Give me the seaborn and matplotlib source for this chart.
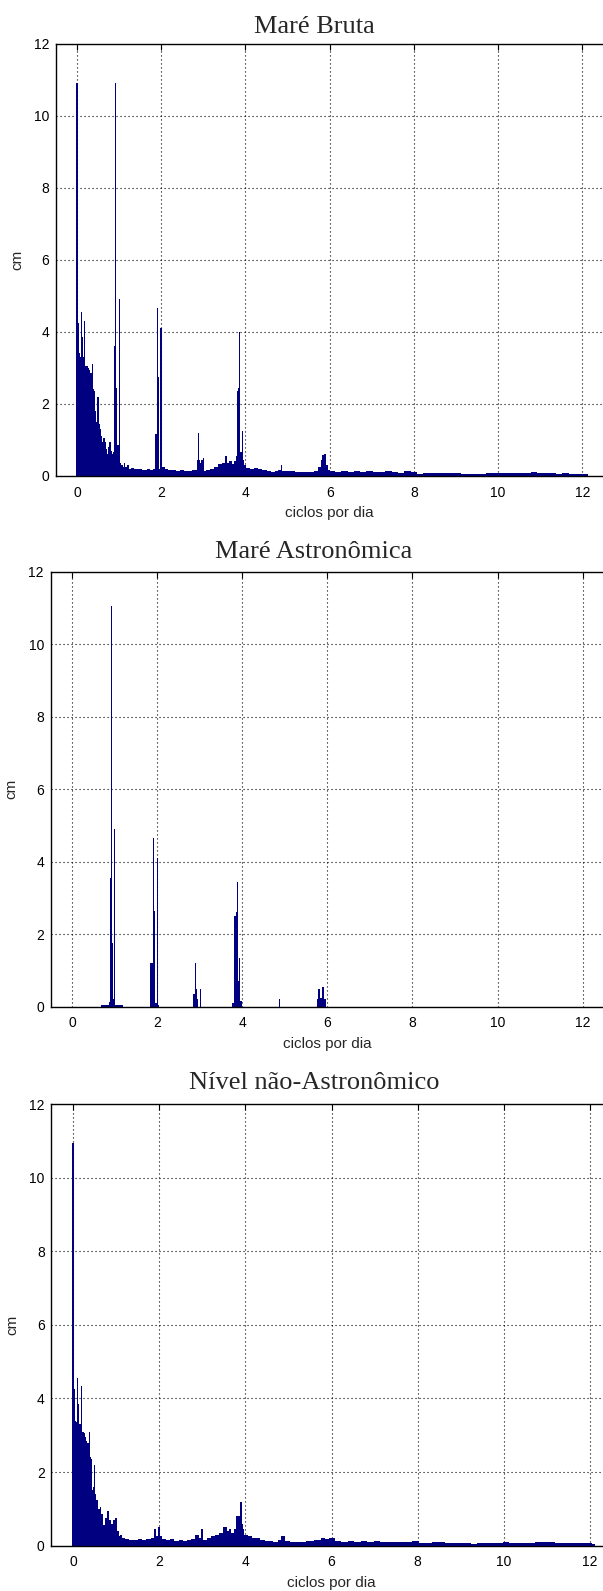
import numpy as np
import matplotlib
matplotlib.use('Agg')
import matplotlib.pyplot as plt
import seaborn as sns

# espectro de amplitude (cm) por frequencia (ciclos por dia)
bruta_freq = [0.00, 0.03, 0.045, 0.06, 0.08, 0.10, 0.12, 0.14, 0.16, 0.19,
              0.21, 0.24, 0.27, 0.30, 0.33, 0.36, 0.38, 0.41, 0.44, 0.47,
              0.50, 0.52, 0.55, 0.58, 0.61, 0.64, 0.67, 0.70, 0.72, 0.75,
              0.78, 0.81, 0.84, 0.87, 0.895, 0.925, 0.945, 0.97, 0.995, 1.015,
              1.04, 1.07, 1.10, 1.13, 1.16, 1.20, 1.25, 1.30, 1.40, 1.50,
              1.60, 1.70, 1.78, 1.84, 1.865, 1.89, 1.915, 1.935, 1.96, 1.995,
              2.02, 2.06, 2.12, 2.2, 2.3, 2.4, 2.5, 2.6, 2.7, 2.78,
              2.84, 2.865, 2.885, 2.91, 2.94, 2.965, 2.995, 3.03, 3.1, 3.2,
              3.3, 3.4, 3.48, 3.54, 3.58, 3.64, 3.7, 3.75, 3.79, 3.815,
              3.84, 3.865, 3.885, 3.905, 3.93, 3.955, 3.99, 4.05, 4.15, 4.25,
              4.35, 4.45, 4.55, 4.65, 4.75, 4.82, 4.86, 4.9, 4.98, 5.1,
              5.25, 5.4, 5.55, 5.7, 5.77, 5.81, 5.85, 5.89, 5.93, 5.97,
              6.05, 6.2, 6.35, 6.5, 6.65, 6.8, 6.95, 7.1, 7.25, 7.4,
              7.55, 7.7, 7.85, 8.0, 8.15, 8.3, 8.45, 8.6, 8.75, 8.9,
              9.05, 9.2, 9.35, 9.5, 9.65, 9.8, 9.95, 10.1, 10.25, 10.4,
              10.55, 10.7, 10.85, 11.0, 11.15, 11.3, 11.45, 11.6, 11.75, 11.9,
              12.05]
bruta_cm = [10.9, 4.25, 3.45, 3.4, 3.3, 4.55, 3.85, 3.3, 3.3, 4.3,
            3.05, 3.05, 3.0, 2.95, 2.85, 3.1, 2.4, 2.35, 1.8, 1.5,
            2.2, 1.45, 1.3, 1.1, 0.95, 1.05, 0.95, 0.75, 0.6, 0.8,
            0.95, 0.7, 0.6, 0.65, 3.6, 10.9, 2.45, 0.85, 0.85, 4.9,
            0.35, 0.3, 0.25, 0.35, 0.25, 0.3, 0.2, 0.22, 0.18, 0.2,
            0.16, 0.18, 0.15, 0.2, 1.15, 1.15, 4.65, 2.75, 0.2, 4.1,
            0.25, 0.25, 0.18, 0.15, 0.17, 0.14, 0.15, 0.13, 0.14, 0.15,
            0.15, 0.45, 1.2, 0.45, 0.35, 0.45, 0.5, 0.12, 0.15, 0.2,
            0.25, 0.33, 0.35, 0.55, 0.35, 0.4, 0.33, 0.4, 0.55, 2.35,
            2.45, 4.0, 0.65, 0.65, 1.25, 0.45, 0.3, 0.22, 0.2, 0.22,
            0.18, 0.15, 0.12, 0.1, 0.12, 0.15, 0.3, 0.12, 0.12, 0.12,
            0.1, 0.1, 0.1, 0.12, 0.25, 0.45, 0.58, 0.6, 0.3, 0.15,
            0.12, 0.1, 0.12, 0.1, 0.12, 0.1, 0.12, 0.1, 0.1, 0.12,
            0.1, 0.09, 0.12, 0.1, 0.06, 0.07, 0.09, 0.09, 0.08, 0.08,
            0.08, 0.06, 0.05, 0.06, 0.06, 0.07, 0.08, 0.08, 0.07, 0.07,
            0.07, 0.09, 0.1, 0.09, 0.08, 0.07, 0.06, 0.07, 0.06, 0.06,
            0.05]

astro_freq = [0.0, 0.66, 0.72, 0.80, 0.86, 0.885, 0.905, 0.93, 0.95, 0.975,
              1.0, 1.025, 1.1, 1.17, 1.21, 1.83, 1.86, 1.885, 1.91, 1.93,
              1.96, 1.985, 2.005, 2.03, 2.06, 2.84, 2.87, 2.895, 2.92, 2.94,
              2.98, 3.02, 3.05, 3.74, 3.77, 3.8, 3.825, 3.85, 3.87, 3.89,
              3.915, 3.945, 3.97, 4.0, 4.855, 4.88, 4.905, 5.74, 5.77, 5.81,
              5.85, 5.88, 5.915, 5.95, 5.98, 12.0]
astro_cm = [0, 0, 0.05, 0.05, 0.06, 0.12, 3.55, 11.05, 1.75, 0.2,
            4.9, 0.06, 0.05, 0.05, 0, 0, 1.2, 1.2, 4.65, 2.65,
            0.1, 0.1, 4.1, 0.05, 0, 0, 0.35, 1.2, 0.5, 0.2,
            0, 0.5, 0, 0, 0.1, 0.1, 2.5, 2.5, 2.6, 3.45,
            0.7, 1.35, 0.15, 0, 0, 0.2, 0, 0, 0.2, 0.5,
            0.25, 0.55, 0.55, 0.2, 0, 0]

resid_freq = [0.00, 0.03, 0.045, 0.06, 0.08, 0.11, 0.14, 0.16, 0.18, 0.21,
              0.23, 0.26, 0.29, 0.32, 0.35, 0.38, 0.40, 0.43, 0.46, 0.48,
              0.505, 0.53, 0.56, 0.6, 0.64, 0.68, 0.72, 0.76, 0.81, 0.85,
              0.9, 0.95, 1.01, 1.04, 1.08, 1.12, 1.16, 1.25, 1.35, 1.45,
              1.55, 1.65, 1.75, 1.85, 1.91, 1.95, 2.0, 2.05, 2.1, 2.2,
              2.3, 2.4, 2.5, 2.6, 2.7, 2.8, 2.88, 2.95, 3.0, 3.05,
              3.15, 3.25, 3.35, 3.45, 3.53, 3.6, 3.65, 3.7, 3.76, 3.81,
              3.86, 3.9, 3.93, 3.96, 4.0, 4.1, 4.2, 4.3, 4.4, 4.5,
              4.6, 4.7, 4.8, 4.87, 4.95, 5.1, 5.3, 5.5, 5.7, 5.8,
              5.9, 6.0, 6.15, 6.3, 6.45, 6.6, 6.75, 6.9, 7.05, 7.2,
              7.35, 7.5, 7.65, 7.8, 7.95, 8.1, 8.25, 8.4, 8.55, 8.7,
              8.85, 9.0, 9.15, 9.3, 9.45, 9.6, 9.75, 9.9, 10.05, 10.2,
              10.35, 10.5, 10.65, 10.8, 10.95, 11.1, 11.25, 11.4, 11.55, 11.7,
              11.85, 12.0, 12.08]
resid_cm = [10.95, 4.25, 3.4, 3.4, 3.35, 4.55, 3.85, 3.3, 3.3, 4.35,
            3.1, 3.05, 2.95, 2.85, 2.8, 3.1, 2.4, 2.35, 1.5, 1.6,
            2.2, 1.4, 1.25, 1.0, 1.05, 0.85, 0.55, 0.75, 0.95, 0.7,
            0.6, 0.7, 0.75, 0.4, 0.25, 0.3, 0.2, 0.18, 0.15, 0.15,
            0.18, 0.15, 0.18, 0.2, 0.45, 0.25, 0.5, 0.25, 0.18, 0.15,
            0.17, 0.14, 0.15, 0.14, 0.15, 0.18, 0.3, 0.2, 0.45, 0.15,
            0.2, 0.25, 0.3, 0.35, 0.5, 0.4, 0.45, 0.35, 0.45, 0.8,
            0.8, 1.2, 0.6, 0.45, 0.3, 0.25, 0.22, 0.2, 0.15, 0.12,
            0.12, 0.1, 0.15, 0.25, 0.12, 0.1, 0.1, 0.12, 0.15, 0.22,
            0.18, 0.2, 0.12, 0.1, 0.12, 0.11, 0.12, 0.1, 0.12, 0.1,
            0.1, 0.11, 0.09, 0.1, 0.12, 0.07, 0.07, 0.09, 0.09, 0.08,
            0.08, 0.08, 0.06, 0.05, 0.06, 0.06, 0.07, 0.07, 0.09, 0.07,
            0.07, 0.07, 0.08, 0.09, 0.11, 0.09, 0.08, 0.07, 0.06, 0.07,
            0.06, 0.06, 0.04]

titulos = ['Maré Bruta', 'Maré Astronômica', 'Nível não-Astronômico']
xticks = [0, 2, 4, 6, 8, 10, 12]
yticks = [0, 2, 4, 6, 8, 10, 12]

NAVY = '#000080'

sns.set_style('white')
plt.rcParams['font.family'] = ['Liberation Sans', 'DejaVu Sans']


def bin_edges(f):
    f = np.asarray(f, dtype=float)
    mids = (f[1:] + f[:-1]) / 2
    edges = np.concatenate([[f[0] - (f[1] - f[0]) / 2], mids,
                            [f[-1] + (f[-1] - f[-2]) / 2]])
    return [float(e) for e in edges]


fig = plt.figure(figsize=(6.03, 15.91), dpi=100)
W, H = 603.0, 1591.0
# left, top, bottom in pixels, width of 13 units in pixels
boxes = [(56.0, 43.5, 475.8, 547.3),
         (50.6, 571.7, 1006.7, 553.4),
         (51.4, 1104.0, 1545.7, 560.3)]
title_x = [0.472, 0.476, 0.469]
title_pad = [7.6, 9.6, 10.8]
series = [(bruta_freq, bruta_cm), (astro_freq, astro_cm), (resid_freq, resid_cm)]

for i, (left, top, bottom, width) in enumerate(boxes):
    ax = fig.add_axes([left / W, 1 - bottom / H, width / W, (bottom - top) / H])
    f, a = series[i]
    sns.histplot(x=f, weights=a, bins=bin_edges(f), ax=ax, color=NAVY,
                 alpha=1, linewidth=0, element='bars')
    ax.set_xlim(-0.5, 12.5)
    ax.set_ylim(0, 12)
    ax.set_xticks(xticks)
    ax.set_yticks(yticks)
    ax.set_axisbelow(True)
    ax.grid(True, color='black', linestyle=(0, (1, 2.6)), linewidth=0.8)
    for s in ax.spines.values():
        s.set_color('black')
        s.set_linewidth(1.0)
    # o eixo direito fica fora da figura
    ax.spines['right'].set_visible(False)
    ax.tick_params(axis='both', direction='in', length=4, width=0.8,
                   top=True, right=False, labelsize=10, colors='black')
    ax.tick_params(axis='x', pad=7)
    ax.tick_params(axis='y', pad=4.8)
    ax.set_xlabel('ciclos por dia', fontsize=11, labelpad=5)
    ax.set_ylabel('cm', fontsize=11, labelpad=7)
    t = ax.set_title(titulos[i], fontsize=19, family='Liberation Serif',
                     pad=title_pad[i])
    t.set_x(title_x[i])

fig.savefig('out.png', dpi=100)
